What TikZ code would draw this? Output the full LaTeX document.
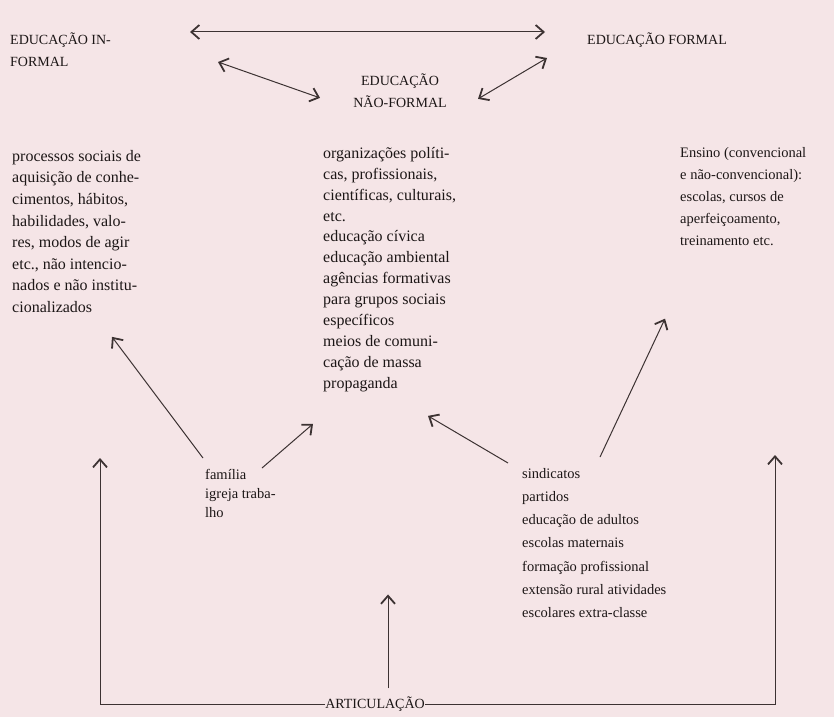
\documentclass[tikz,border=0pt]{standalone}
\usepackage{fontspec}
\setmainfont{Liberation Serif}
\usetikzlibrary{arrows.meta,positioning}
\definecolor{papel}{RGB}{245,229,231}
\definecolor{tinta}{RGB}{28,22,22}
\definecolor{traco}{RGB}{60,50,50}

\begin{document}
\begin{tikzpicture}[x=1pt,y=-1pt,
    titulo/.style={font=\fontsize{14}{21.5}\selectfont, text=tinta, inner sep=0pt},
    lista/.style={font=\fontsize{14.5}{#1}\selectfont, text=tinta, align=left, inner sep=0pt, anchor=north west},
    lista/.default={21.6},
    ponta/.tip={Straight Barb[length=8pt,width=14pt,line width=1.8pt]},
    seta/.style={draw=traco, line width=1pt, -ponta},
    setas/.style={draw=traco, line width=1pt, ponta-ponta}]
    % page
    \fill[papel] (0,0) rectangle (834,717);
    \useasboundingbox (0,0) rectangle (834,717);

    % the three kinds of education
    \node[titulo, align=left, anchor=north west] (infor) at (10,33) {EDUCAÇÃO IN-\\FORMAL};
    \node[titulo, anchor=north west] (formal) at (587,33) {EDUCAÇÃO FORMAL};
    \node[titulo, align=center, anchor=north] (naoformal) at (400,74) {EDUCAÇÃO\\NÃO-FORMAL};

    \draw[setas] ([xshift=180pt,yshift=1pt]infor.north west) -- ([xshift=-42pt,yshift=1pt]formal.north west);
    \draw[setas] ([xshift=208pt,yshift=-29pt]infor.north west) -- ([xshift=-80pt,yshift=-7pt]naoformal.center);
    \draw[setas] ([xshift=78pt,yshift=-8pt]naoformal.center) -- ([xshift=-40pt,yshift=-25pt]formal.north west);

    % columns
    \node[lista, font=\fontsize{16}{21.6}\selectfont] (colInf) at (12,150) {processos sociais de\\aquisição de conhe-\\cimentos, hábitos,\\habilidades, valo-\\res, modos de agir\\etc., não intencio-\\nados e não institu-\\cionalizados};
    \node[lista, font=\fontsize{16}{20.9}\selectfont] (colNao) at (323,147) {organizações políti-\\cas, profissionais,\\científicas, culturais,\\etc.\\educação cívica\\educação ambiental\\agências formativas\\para grupos sociais\\específicos\\meios de comuni-\\cação de massa\\propaganda};
    \node[lista=22] (colFor) at (680,147) {Ensino (convencional\\e não-convencional):\\escolas, cursos de\\aperfeiçoamento,\\treinamento etc.};

    % agents
    \node[lista=19] (familia) at (205,469) {família\\igreja traba-\\lho};
    \node[lista=23.2] (sindic) at (522,468) {sindicatos\\partidos\\educação de adultos\\escolas maternais\\formação profissional\\extensão rural atividades\\escolares extra-classe};

    \draw[seta] ([xshift=-2pt,yshift=11pt]familia.north west) -- ([xshift=100pt,yshift=-24pt]colInf.south west);
    \draw[seta] ([xshift=57pt,yshift=1pt]familia.north west) -- ([xshift=-10pt,yshift=-32pt]colNao.south west);
    \draw[seta] ([xshift=-14pt,yshift=5pt]sindic.north west) -- ([xshift=105pt,yshift=-24pt]colNao.south west);
    \draw[seta] ([xshift=78pt,yshift=11pt]sindic.north west) -- ([xshift=-15pt,yshift=-73pt]colFor.south west);

    % articulation
    \node[titulo] (artic) at (375,704) {ARTICULAÇÃO};
    \draw[seta] (artic.west) -| ([xshift=-105pt,yshift=11pt]familia.north west);
    \draw[seta] ([xshift=13pt,yshift=8pt]artic.north) -- ++(0,-94);
    \draw[seta] (artic.east) -| ([xshift=253pt,yshift=13pt]sindic.north west);
\end{tikzpicture}
\end{document}
